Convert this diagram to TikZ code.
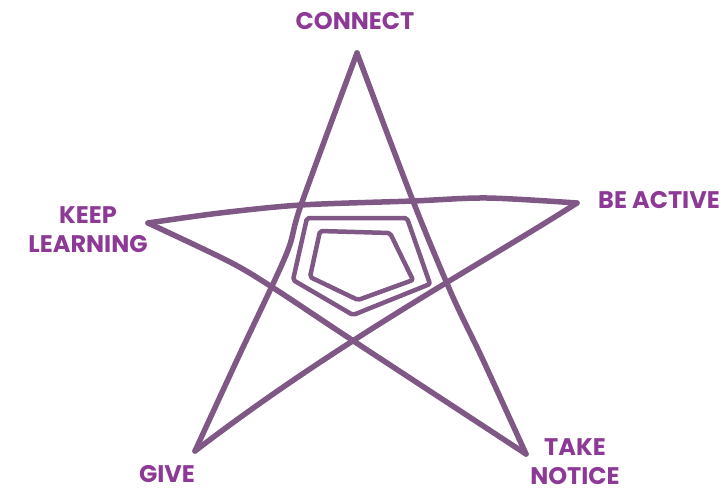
\documentclass[tikz,border=0pt]{standalone}
\usepackage{fontspec}
\setmainfont{Poppins}
\begin{document}
\begin{tikzpicture}[x=1pt,y=-1pt,
  ink/.style={draw=inkc, line width=5.5pt, line cap=round, line join=round},
  ring/.style={draw=inkc, line width=4.5pt, line cap=round, line join=round, rounded corners=2pt},
  lbl/.style={text=labc, font=\bfseries\fontsize{24}{29}\selectfont, align=center, inner sep=0pt}]
\definecolor{inkc}{RGB}{128,88,134}
\definecolor{labc}{RGB}{140,58,150}
\useasboundingbox (0,0) rectangle (725,492);
% star points
\coordinate (T) at (357,53);
\coordinate (R) at (577,203);
\coordinate (BR) at (526,454);
\coordinate (BL) at (195,451);
\coordinate (L) at (148,223);
% star strokes
\draw[ink] plot[smooth, tension=0.5] coordinates {(357,53) (301,205) (286,255) (237,360) (195,451)};
\draw[ink] plot[smooth, tension=0.5] coordinates {(357,53) (413,201) (452,295) (483,360) (526,454)};
\draw[ink] plot[smooth, tension=0.5] coordinates {(148,223) (220,213) (301,205) (413,201) (487,198) (577,203)};
\draw[ink] plot[smooth, tension=0.5] coordinates {(148,223) (230,262) (275,289) (352,340) (526,454)};
\draw[ink] (R) .. controls (480,265) and (340,340) .. (BL);
% rings
\draw[ring] (307,218) -- (407,218) -- (430,284) -- (353,315) -- (293,280) -- cycle;
\draw[ring] (320,231) -- (390,233) -- (413,280) -- (358,300) -- (310,277) -- cycle;
% labels
\node[lbl] (connect) at (355,21) {CONNECT};
\node[lbl] (active) at (659,200) {BE ACTIVE};
\node[lbl] (keep) at (88,230) {KEEP\\LEARNING};
\node[lbl] (give) at (167,474) {GIVE};
\node[lbl] (take) at (575,462) {TAKE\\NOTICE};
\end{tikzpicture}
\end{document}
